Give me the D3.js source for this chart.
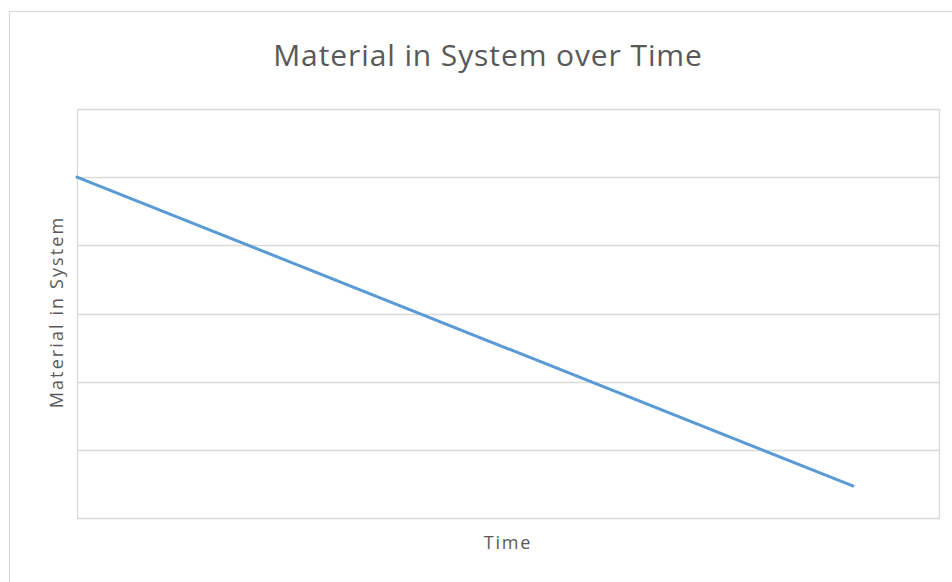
<!DOCTYPE html>
<html>
<head>
<meta charset="utf-8">
<script src="https://cdn.jsdelivr.net/npm/d3@7"></script>
<style>
  html, body { margin: 0; padding: 0; background: #fff; }
  svg { display: block; }
  text { font-family: "Open Sans", Lato, sans-serif; fill: #595959; }
</style>
</head>
<body>
<svg id="chart" width="952" height="582"></svg>
<script>
// Series: time vs. material remaining
const timeValues = [0, 9];
const materialValues = [5, 0.47];
const yTicks = [0, 1, 2, 3, 4, 5, 6];

const chartTitle = "Material in System over Time";
const xTitle = "Time";
const yTitle = "Material in System";

const svg = d3.select("#chart");
const W = 952, H = 582;
const plot = { left: 77, top: 109, right: 939, bottom: 518 };

// chart frame (open at right and bottom)
svg.append("path")
  .attr("d", `M9.5,${H} L9.5,11.5 L${W},11.5`)
  .attr("fill", "none")
  .attr("stroke", "#d9d9d9")
  .attr("stroke-width", 1.2);

const x = d3.scaleLinear().domain([0, 10]).range([plot.left, plot.right]);
const y = d3.scaleLinear().domain([0, 6]).range([plot.bottom, plot.top]);

// horizontal gridlines
svg.append("g")
  .selectAll("line")
  .data(yTicks)
  .join("line")
  .attr("x1", plot.left).attr("x2", plot.right)
  .attr("y1", d => Math.round(y(d)) + 0.5)
  .attr("y2", d => Math.round(y(d)) + 0.5)
  .attr("stroke", "#d9d9d9")
  .attr("stroke-width", 1.3);

// plot area side borders
[plot.left, plot.right].forEach(px => {
  svg.append("line")
    .attr("x1", px + 0.5).attr("x2", px + 0.5)
    .attr("y1", plot.top).attr("y2", plot.bottom + 1)
    .attr("stroke", "#d9d9d9")
    .attr("stroke-width", 1.3);
});

// data line
const pts = timeValues.map((t, i) => [t, materialValues[i]]);
svg.append("path")
  .datum(pts)
  .attr("d", d3.line().x(d => x(d[0])).y(d => y(d[1])))
  .attr("fill", "none")
  .attr("stroke", "#5b9bd5")
  .attr("stroke-width", 3)
  .attr("stroke-linecap", "round");

// titles
svg.append("text")
  .attr("x", 488)
  .attr("y", 66)
  .attr("text-anchor", "middle")
  .attr("font-size", 30)
  .attr("letter-spacing", 0.9)
  .text(chartTitle);

svg.append("text")
  .attr("x", 508)
  .attr("y", 549)
  .attr("text-anchor", "middle")
  .attr("font-size", 18)
  .attr("letter-spacing", 1.8)
  .text(xTitle);

svg.append("text")
  .attr("transform", `translate(63, 312) rotate(-90)`)
  .attr("text-anchor", "middle")
  .attr("font-size", 18)
  .attr("letter-spacing", 2.1)
  .text(yTitle);
</script>
</body>
</html>
